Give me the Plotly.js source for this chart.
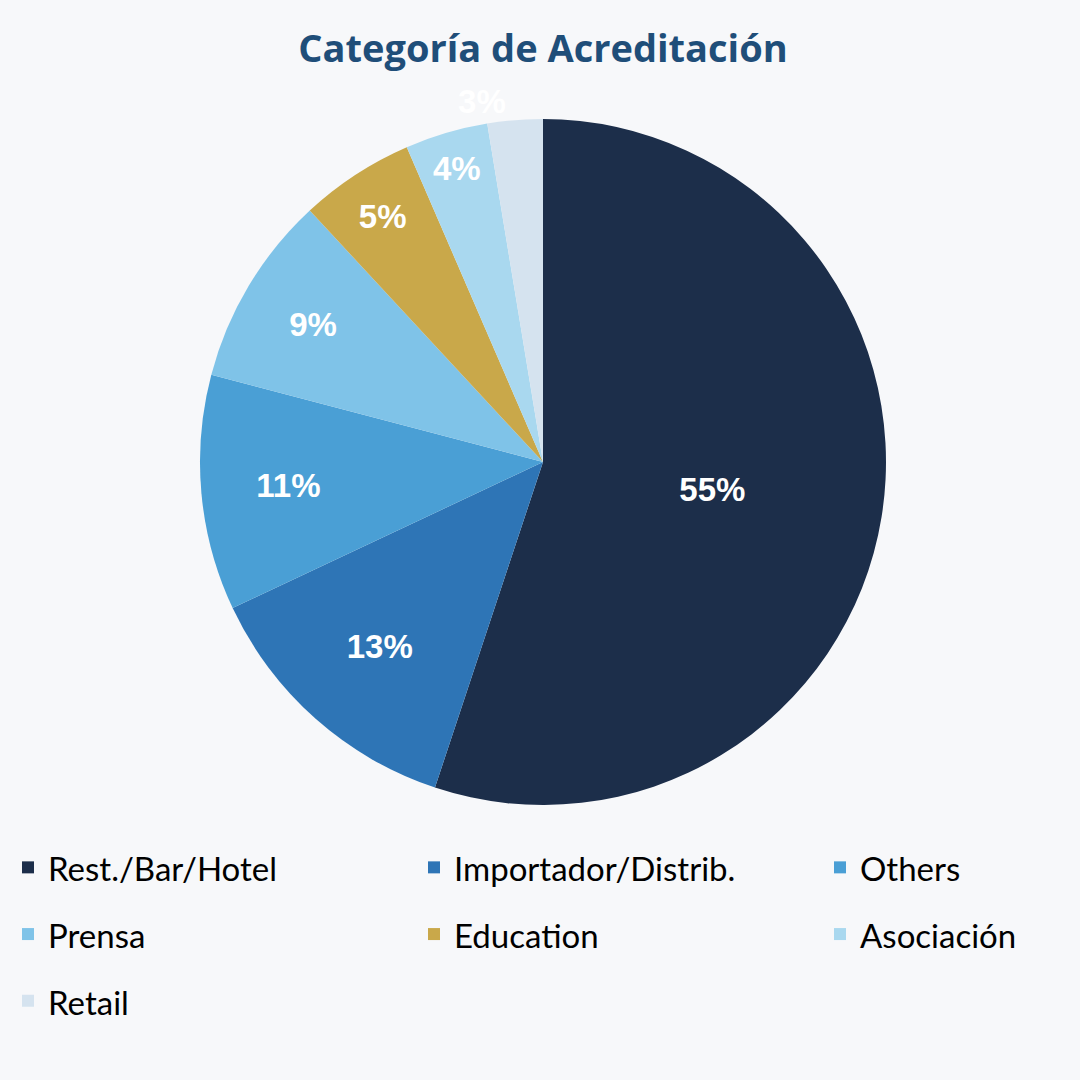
<!DOCTYPE html>
<html>
<head>
<meta charset="utf-8">
<script src="https://cdn.plot.ly/plotly-3.0.1.min.js"></script>
<style>
  html, body { margin: 0; padding: 0; background: #f7f8fa; width: 1080px; height: 1080px; overflow: hidden; }
  #chart { width: 1260px; height: 1080px; }
</style>
</head>
<body>
<div id="chart"></div>
<script>
const categories = ["Rest./Bar/Hotel", "Importador/Distrib.", "Others", "Prensa", "Education", "Asociación", "Retail"];
const shares = [55.1, 12.9, 11.1, 9.0, 5.4, 3.9, 2.6];
const sliceColors = ["#1c2e4a", "#2e75b6", "#4a9fd5", "#7fc3e8", "#c9a84a", "#a9d8ef", "#d5e3ef"];
const labelPlaces = ["inside", "inside", "inside", "inside", "inside", "inside", "outside"];

// the plot is laid out a bit wider than the window so three legend columns fit
const W = 1260;

// legend rows are spaced by the big legend font, names drawn at the smaller size
const legendNames = categories.map(c =>
  `<span style="font-size:33px;baseline-shift:5px">${c}</span>`);

const pieTrace = {
  type: "pie",
  labels: legendNames,
  values: shares,
  sort: false,
  direction: "clockwise",
  rotation: 0,
  marker: { colors: sliceColors, line: { width: 0 } },
  texttemplate: "%{percent:.0%}",
  textposition: labelPlaces,
  insidetextorientation: "horizontal",
  textfont: { family: "Liberation Sans, Arial, sans-serif", size: 33, color: "#ffffff", weight: "bold" },
  hoverinfo: "percent",
  domain: { x: [200 / W, 886 / W], y: [0.2546, 0.8898] }
};

const layout = {
  width: W,
  height: 1080,
  paper_bgcolor: "#f7f8fa",
  plot_bgcolor: "#f7f8fa",
  margin: { l: 0, r: 0, t: 0, b: 0 },
  title: {
    text: "<b>Categoría de Acreditación</b>",
    font: { family: "Open Sans, sans-serif", size: 38, color: "#1f4e79" },
    x: 543 / W,
    xanchor: "center",
    y: 0.955,
    yanchor: "middle"
  },
  showlegend: true,
  legend: {
    orientation: "h",
    x: 8 / W,
    xanchor: "left",
    y: 0.2324,
    yanchor: "top",
    entrywidth: 361,
    entrywidthmode: "pixels",
    font: { family: "Lato, sans-serif", size: 49, color: "#000000" },
    itemwidth: 30
  }
};

Plotly.newPlot("chart", [pieTrace], layout, { displayModeBar: false });
</script>
</body>
</html>
